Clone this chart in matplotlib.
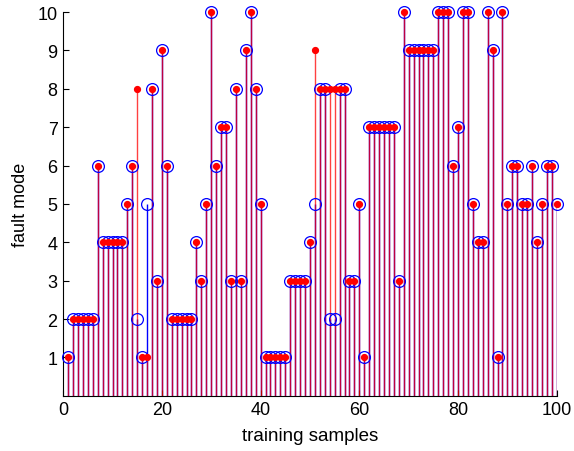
import matplotlib
matplotlib.use("Agg")
import matplotlib.pyplot as plt
import numpy as np

samples = list(range(1, 101))
true_mode = [1, 2, 2, 2, 2, 2, 6, 4, 4, 4,
             4, 4, 5, 6, 2, 1, 5, 8, 3, 9,
             6, 2, 2, 2, 2, 2, 4, 3, 5, 10,
             6, 7, 7, 3, 8, 3, 9, 10, 8, 5,
             1, 1, 1, 1, 1, 3, 3, 3, 3, 4,
             5, 8, 8, 2, 2, 8, 8, 3, 3, 5,
             1, 7, 7, 7, 7, 7, 7, 3, 10, 9,
             9, 9, 9, 9, 9, 10, 10, 10, 6, 7,
             10, 10, 5, 4, 4, 10, 9, 1, 10, 5,
             6, 6, 5, 5, 6, 4, 5, 6, 6, 5]
pred_mode = [1, 2, 2, 2, 2, 2, 6, 4, 4, 4,
             4, 4, 5, 6, 8, 1, 1, 8, 3, 9,
             6, 2, 2, 2, 2, 2, 4, 3, 5, 10,
             6, 7, 7, 3, 8, 3, 9, 10, 8, 5,
             1, 1, 1, 1, 1, 3, 3, 3, 3, 4,
             9, 8, 8, 8, 8, 8, 8, 3, 3, 5,
             1, 7, 7, 7, 7, 7, 7, 3, 10, 9,
             9, 9, 9, 9, 9, 10, 10, 10, 6, 7,
             10, 10, 5, 4, 4, 10, 9, 1, 10, 5,
             6, 6, 5, 5, 6, 4, 5, 6, 6, 5]
xticks = [0, 20, 40, 60, 80, 100]
yticks = list(range(1, 11))

plt.rcParams['font.family'] = ['Liberation Sans', 'DejaVu Sans']
fig = plt.figure(figsize=(5.74, 4.52), dpi=100)
ax = fig.add_axes([0.110, 0.122, 0.860, 0.849])

x = np.array(samples)
ax.vlines(x, 0, true_mode, colors='#0000ff', linewidth=1.0, zorder=1)
ax.vlines(x, 0, pred_mode, colors='#ff0000', linewidth=1.0, alpha=0.75, zorder=2)
ax.plot(x, true_mode, linestyle='none', marker='o', markersize=8.5,
        markerfacecolor='none', markeredgecolor='#0000ff', markeredgewidth=0.9,
        zorder=3, clip_on=False)
ax.plot(x, pred_mode, linestyle='none', marker='o', markersize=4.2,
        markerfacecolor='#ff0000', markeredgecolor='#ff0000', zorder=4, clip_on=False)

ax.set_xlim(0, 100)
ax.set_ylim(0, 10)
ax.set_xticks(xticks)
ax.set_yticks(yticks)
ax.tick_params(direction='in', length=4, width=0.8, labelsize=13, pad=4)
ax.spines['top'].set_visible(False)
ax.spines['right'].set_visible(False)
ax.set_xlabel('training samples', fontsize=13.5, labelpad=6)
ax.set_ylabel('fault mode', fontsize=13, labelpad=6)

fig.savefig('out.png', dpi=100)
